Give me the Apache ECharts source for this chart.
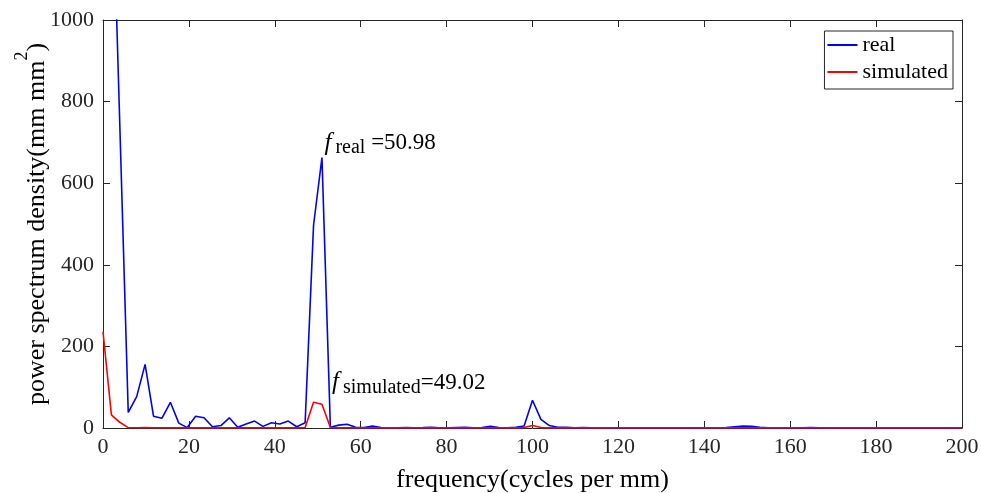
<!DOCTYPE html>
<html>
<head>
<meta charset="utf-8">
<script src="https://cdn.jsdelivr.net/npm/echarts@6/dist/echarts.min.js"></script>
<style>html,body{margin:0;padding:0;background:#fff}#c{width:981px;height:493px}</style>
</head>
<body>
<div id="c"></div>
<script>
// frequency grid (cycles per mm)
const freq = [0, 1.96, 3.92, 5.88, 7.84, 9.80, 11.76, 13.73, 15.69, 17.65, 19.61, 21.57, 23.53, 25.49, 27.45, 29.41, 31.37, 33.33, 35.29, 37.25, 39.22, 41.18, 43.14, 45.10, 47.06, 49.02, 50.98, 52.94, 54.90, 56.86, 58.82, 60.78, 62.75, 64.71, 66.67, 68.63, 70.59, 72.55, 74.51, 76.47, 78.43, 80.39, 82.35, 84.31, 86.27, 88.24, 90.20, 92.16, 94.12, 96.08, 98.04, 100.00, 101.96, 103.92, 105.88, 107.84, 109.80, 111.76, 113.73, 115.69, 117.65, 119.61, 121.57, 123.53, 125.49, 127.45, 129.41, 131.37, 133.33, 135.29, 137.25, 139.22, 141.18, 143.14, 145.10, 147.06, 149.02, 150.98, 152.94, 154.90, 156.86, 158.82, 160.78, 162.75, 164.71, 166.67, 168.63, 170.59, 172.55, 174.51, 176.47, 178.43, 180.39, 182.35, 184.31, 186.27, 188.24, 190.20, 192.16, 194.12, 196.08, 198.04, 200.00];

// power spectrum density, real
const realPSD = [2500, 1440, 740, 38, 77, 156, 29, 24, 63, 12, 1, 29, 25, 3, 6, 25, 2, 10, 17, 4, 13, 10, 17, 3, 13, 497, 663, 2, 7, 9, 2, 1, 5, 1, 0.5, 0.5, 1, 0.5, 1, 2, 0.5, 0.5, 1, 1.5, 0.5, 1, 4, 1, 0.5, 2, 5, 68, 21, 6, 2, 2, 0.5, 1, 0.5, 0.5, 0.5, 0.3, 0.5, 0.3, 0.3, 0.5, 0.3, 0.3, 0.3, 0.3, 0.3, 0.3, 0.3, 0.5, 1, 3, 5, 4, 1.5, 0.5, 0.3, 0.3, 0.3, 0.3, 1, 0.3, 0.3, 0.3, 0.3, 0.3, 0.3, 0.3, 0.3, 0.3, 0.3, 0.3, 0.3, 0.3, 0.3, 0.3, 0.3, 0.3, 0.3];

// power spectrum density, simulated
const simPSD = [236, 32, 14, 1, 0.5, 1, 0.5, 0.3, 0.3, 0.3, 0.3, 0.3, 0.3, 0.3, 0.3, 0.3, 0.3, 0.3, 0.3, 0.3, 0.3, 0.3, 0.3, 0.3, 1, 63, 58, 1, 0.3, 0.3, 0.3, 0.3, 0.3, 0.3, 0.3, 0.3, 0.3, 0.3, 0.3, 0.3, 0.3, 0.3, 0.3, 0.3, 0.3, 0.3, 0.3, 0.3, 0.3, 0.3, 1, 6, 1, 0.3, 0.3, 0.3, 0.3, 0.3, 0.3, 0.3, 0.3, 0.3, 0.3, 0.3, 0.3, 0.3, 0.3, 0.3, 0.3, 0.3, 0.3, 0.3, 0.3, 0.3, 0.3, 0.3, 0.3, 0.3, 0.3, 0.3, 0.3, 0.3, 0.3, 0.3, 0.3, 0.3, 0.3, 0.3, 0.3, 0.3, 0.3, 0.3, 0.3, 0.3, 0.3, 0.3, 0.3, 0.3, 0.3, 0.3, 0.3, 0.3, 0.3];

const seriesNames = ['real', 'simulated'];
const realPeakIdx = 26;
const simPeakIdx = 25;

const FONT = '"Liberation Serif", "Times New Roman", serif';
const AX = '#262626';

function pairs(vals) { return freq.map((f, i) => [f, vals[i]]); }

const richLbl = {
  f: { fontFamily: FONT, fontStyle: 'italic', fontSize: 25, color: '#000', lineHeight: 30, verticalAlign: 'middle' },
  s: { fontFamily: FONT, fontSize: 20, color: '#000', lineHeight: 30, verticalAlign: 'bottom', padding: [0, 0, 0, 4] },
  n: { fontFamily: FONT, fontSize: 23, color: '#000', lineHeight: 30, verticalAlign: 'middle' }
};

const chart = echarts.init(document.getElementById('c'), null, { renderer: 'canvas' });
chart.setOption({
  animation: false,
  backgroundColor: '#fff',
  grid: { left: 103, right: 19, top: 20, bottom: 65, outerBoundsMode: 'none' },
  legend: {
    data: seriesNames,
    orient: 'vertical',
    right: 28, top: 31,
    backgroundColor: '#fff',
    borderColor: AX, borderWidth: 1,
    padding: [3, 5, 6, 3],
    itemGap: 5,
    icon: 'rect', itemWidth: 30, itemHeight: 2,
    textStyle: { fontFamily: FONT, fontSize: 22, color: '#000' }
  },
  xAxis: [{
    type: 'value', min: 0, max: 200, interval: 20,
    name: 'frequency(cycles per mm)', nameLocation: 'middle', nameGap: 39, nameMoveOverlap: false,
    nameTextStyle: { fontFamily: FONT, fontSize: 26, color: '#000' },
    axisLine: { show: true, onZero: false, lineStyle: { color: AX, width: 1 } },
    axisTick: { show: true, inside: true, length: 7, lineStyle: { color: AX } },
    axisLabel: { fontFamily: FONT, fontSize: 22, color: AX, margin: 8 },
    splitLine: { show: false }
  }, {
    type: 'value', min: 0, max: 200, interval: 20, position: 'top',
    axisLine: { show: true, onZero: false, lineStyle: { color: AX, width: 1 } },
    axisTick: { show: true, inside: true, length: 7, lineStyle: { color: AX } },
    axisLabel: { show: false }, splitLine: { show: false }
  }],
  yAxis: [{
    type: 'value', min: 0, max: 1000, interval: 200,
    name: 'power spectrum density(mm mm{sup|2})', nameLocation: 'middle', nameGap: 42, nameRotate: 90,
    nameMoveOverlap: false,
    nameTextStyle: { fontFamily: FONT, fontSize: 26, color: '#000',
      rich: { sup: { fontFamily: FONT, fontSize: 18, color: '#000', verticalAlign: 'top', lineHeight: 48 } } },
    axisLine: { show: true, onZero: false, lineStyle: { color: AX, width: 1 } },
    axisTick: { show: true, inside: true, length: 7, lineStyle: { color: AX } },
    axisLabel: { fontFamily: FONT, fontSize: 22, color: AX, margin: 9, formatter: (v) => String(v) },
    splitLine: { show: false }
  }, {
    type: 'value', min: 0, max: 1000, interval: 200, position: 'right',
    axisLine: { show: true, onZero: false, lineStyle: { color: AX, width: 1 } },
    axisTick: { show: true, inside: true, length: 7, lineStyle: { color: AX } },
    axisLabel: { show: false }, splitLine: { show: false }
  }],
  series: [{
    name: seriesNames[0], type: 'line', data: pairs(realPSD),
    showSymbol: false, symbol: 'none', clip: true,
    lineStyle: { color: '#0000ff', width: 1.6 }, itemStyle: { color: '#0000ff' },
    markPoint: {
      symbol: 'circle', symbolSize: 1, itemStyle: { color: 'rgba(0,0,0,0)' },
      data: [{ coord: [freq[realPeakIdx], realPSD[realPeakIdx]] }],
      label: { show: true, position: [3, -14], align: 'left', verticalAlign: 'middle',
        formatter: '{f|f}{s|real}{n| =' + freq[realPeakIdx].toFixed(2) + '}', rich: richLbl }
    },
    z: 2
  }, {
    name: seriesNames[1], type: 'line', data: pairs(simPSD),
    showSymbol: false, symbol: 'none', clip: true,
    lineStyle: { color: '#ff0000', width: 1.6 }, itemStyle: { color: '#ff0000' },
    markPoint: {
      symbol: 'circle', symbolSize: 1, itemStyle: { color: 'rgba(0,0,0,0)' },
      data: [{ coord: [freq[simPeakIdx], simPSD[simPeakIdx]] }],
      label: { show: true, position: [19, -19], align: 'left', verticalAlign: 'middle',
        formatter: '{f|f}{s|simulated}{n|=' + freq[simPeakIdx].toFixed(2) + '}', rich: richLbl }
    },
    z: 3
  }]
});
</script>
</body>
</html>
